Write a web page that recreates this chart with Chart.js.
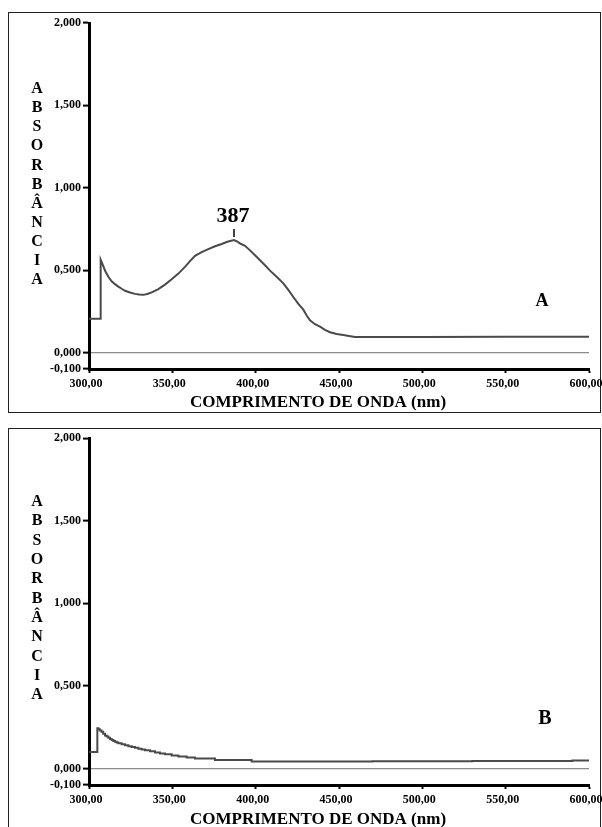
<!DOCTYPE html>
<html>
<head>
<meta charset="utf-8">
<script src="https://cdn.jsdelivr.net/npm/chart.js@4.4.1/dist/chart.umd.min.js"></script>
<style>
  body { margin: 0; background: #fff; width: 602px; height: 827px; overflow: hidden; position: relative; }
  .panel { position: absolute; left: 8px; width: 591px; border: 1px solid #222; }
  #panelA { top: 12px; height: 399px; }
  #panelB { top: 428px; height: 420px; border-bottom: none; }
  canvas { position: absolute; left: 0; top: 0; }
</style>
</head>
<body>
<div class="panel" id="panelA"><canvas id="chartA" width="594" height="399"></canvas></div>
<div class="panel" id="panelB"><canvas id="chartB" width="594" height="398"></canvas></div>
<script>
// spectrum A (with the 387 nm band)
var wavelengthsA = [300, 307, 307, 308, 309.6, 311.6, 313.6, 315.6, 317.6, 319.6, 321.6, 324.6, 327.6, 330, 332.6,
  335, 337.6, 341.6, 345.6, 349.6, 353.6, 357.6, 360.6, 363.6, 367.6, 371.6, 375.6, 379.6, 383, 387,
  389, 391, 393.6, 396.6, 399.6, 402.6, 405.6, 408.6, 412.6, 416.6, 419.6, 422.6, 425.6, 428.6, 430.6,
  432.6, 435.6, 438.6, 441.6, 444.6, 448.6, 452.6, 456, 459.6, 500, 550, 600];
var absorbanceA = [0.205, 0.205, 0.564, 0.54, 0.498, 0.46, 0.432, 0.415, 0.40, 0.387, 0.375, 0.364, 0.356, 0.352, 0.35,
  0.355, 0.365, 0.385, 0.412, 0.445, 0.479, 0.52, 0.555, 0.587, 0.61, 0.628, 0.645, 0.659, 0.672, 0.683,
  0.673, 0.66, 0.648, 0.62, 0.59, 0.56, 0.53, 0.497, 0.46, 0.42, 0.38, 0.337, 0.295, 0.26, 0.225,
  0.195, 0.172, 0.157, 0.138, 0.123, 0.113, 0.106, 0.10, 0.094, 0.094, 0.095, 0.096];

// spectrum B (no band), read as steps
var wavelengthsB = [300, 305, 305.6, 306.5, 307.5, 308.5, 309.6, 310.6, 311.6, 312.6, 313.6, 314.6, 315.6,
  316.6, 317.6, 319.6, 321.6, 323.6, 325.6, 327.6, 329.6, 331.6, 333.6, 336.6, 339.6, 342.6, 345.6,
  349.6, 353.6, 358.6, 363.6, 375.6, 397.6, 470, 530, 590, 600];
var absorbanceB = [0.10, 0.243, 0.238, 0.23, 0.222, 0.211, 0.20, 0.193, 0.186, 0.179, 0.172, 0.167, 0.162,
  0.157, 0.153, 0.147, 0.141, 0.135, 0.13, 0.125, 0.12, 0.115, 0.111, 0.104, 0.097, 0.091, 0.086,
  0.079, 0.073, 0.067, 0.061, 0.052, 0.042, 0.044, 0.046, 0.048, 0.048];

var yTicks = [-0.1, 0, 0.5, 1.0, 1.5, 2.0];
var xTicks = [300, 350, 400, 450, 500, 550, 600];
var yTitle = 'ABSORBÂNCIA';
var xTitle = 'COMPRIMENTO DE ONDA (nm)';
var peakWavelength = 387;

var serif = '"Liberation Serif", "Times New Roman", serif';

var panelText = {
  id: 'panelText',
  afterDraw: function (chart, args, opts) {
    var ctx = chart.ctx, area = chart.chartArea;
    ctx.save();
    ctx.fillStyle = '#000';
    ctx.textAlign = 'center';
    ctx.textBaseline = 'middle';

    ctx.font = 'bold 16px ' + serif;
    yTitle.split('').forEach(function (ch, i) {
      ctx.fillText(ch, opts.yTitleX, opts.yTitleTop + i * opts.yTitleStep);
    });

    ctx.font = 'bold 17px ' + serif;
    ctx.fillText(xTitle, opts.xTitleX, area.bottom + opts.xTitleGap);

    ctx.font = 'bold ' + opts.tagSize + 'px ' + serif;
    ctx.fillText(opts.tag, opts.tagX, opts.tagY);

    if (opts.peak) {
      var i = wavelengthsA.indexOf(peakWavelength);
      var px = chart.scales.x.getPixelForValue(peakWavelength);
      var py = chart.scales.y.getPixelForValue(absorbanceA[i]);
      ctx.strokeStyle = '#000';
      ctx.lineWidth = 1.5;
      ctx.beginPath();
      ctx.moveTo(px, py - 3);
      ctx.lineTo(px, py - 11);
      ctx.stroke();
      ctx.font = 'bold 22px ' + serif;
      ctx.textBaseline = 'alphabetic';
      ctx.fillText(String(peakWavelength), px - 1, py - 18);
    }
    ctx.restore();
  }
};

function makeChart(id, xs, ys, stepped, text, topPad, xHeight) {
  var points = xs.map(function (x, i) { return { x: x, y: ys[i] }; });
  return new Chart(document.getElementById(id), {
    type: 'line',
    data: {
      datasets: [{
        data: points,
        borderColor: '#4a4a4a',
        borderWidth: 2,
        pointRadius: 0,
        stepped: stepped,
        tension: 0,
        fill: false
      }]
    },
    options: {
      responsive: false,
      animation: false,
      devicePixelRatio: 1,
      layout: { padding: { left: 40, right: 14, top: topPad, bottom: 0 } },
      plugins: {
        legend: { display: false },
        tooltip: { enabled: false },
        panelText: text
      },
      scales: {
        x: {
          type: 'linear',
          min: 300,
          max: 600,
          afterBuildTicks: function (s) { s.ticks = xTicks.map(function (v) { return { value: v }; }); },
          afterFit: function (s) { s.height = xHeight; s.paddingLeft = 0; s.paddingRight = 0; },
          border: { display: true, color: '#000', width: 3 },
          grid: { drawOnChartArea: false, tickColor: '#000', tickWidth: 2, tickLength: 4 },
          ticks: {
            autoSkip: false, maxRotation: 0, padding: 4, labelOffset: -3, color: '#000',
            font: { family: serif, size: 12, weight: 'bold' },
            callback: function (v) { return v.toFixed(2).replace('.', ','); }
          }
        },
        y: {
          min: -0.1,
          max: 2.0,
          afterBuildTicks: function (s) { s.ticks = yTicks.map(function (v) { return { value: v }; }); },
          afterFit: function (s) { s.width = 40; },
          border: { display: true, color: '#000', width: 3 },
          grid: {
            drawOnChartArea: true,
            color: function (c) { return c.tick && c.tick.value === 0 ? '#8c8c8c' : 'rgba(0,0,0,0)'; },
            lineWidth: 1.2,
            tickColor: '#000', tickWidth: 2, tickLength: 6
          },
          ticks: {
            autoSkip: false, padding: 2, color: '#000',
            font: { family: serif, size: 12, weight: 'bold' },
            callback: function (v) { return v.toFixed(3).replace('.', ','); }
          }
        }
      }
    },
    plugins: [panelText]
  });
}

makeChart('chartA', wavelengthsA, absorbanceA, false, {
  yTitleX: 28, yTitleTop: 76, yTitleStep: 19.1,
  xTitleX: 309, xTitleGap: 34,
  tag: 'A', tagSize: 18, tagX: 533, tagY: 288,
  peak: true
}, 10, 43);

makeChart('chartB', wavelengthsB, absorbanceB, true, {
  yTitleX: 28, yTitleTop: 73, yTitleStep: 19.3,
  xTitleX: 309, xTitleGap: 35,
  tag: 'B', tagSize: 20, tagX: 536, tagY: 290,
  peak: false
}, 6, 42);
</script>
</body>
</html>
